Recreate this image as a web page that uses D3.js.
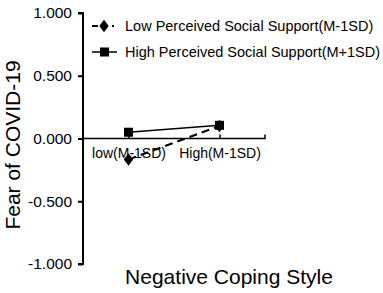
<!DOCTYPE html>
<html>
<head>
<meta charset="utf-8">
<script src="https://cdn.jsdelivr.net/npm/d3@7"></script>
<style>
  body { margin: 0; background: #fff; }
  svg text { font-family: 'Liberation Sans', Arial, sans-serif; fill: #000; }
</style>
</head>
<body>
<div id="chart"></div>
<script>
'use strict'

var categories = ['low(M-1SD)', 'High(M-1SD)']
var lowSupport = [-0.167, 0.10]
var highSupport = [0.05, 0.105]
var yTicks = [1, 0.5, 0, -0.5, -1]
var seriesNames = [
  'Low Perceived Social Support(M-1SD)',
  'High Perceived Social Support(M+1SD)'
]

var width = 383
var height = 293
var margin = { top: 13, left: 83, right: 118, bottom: 29 }

var svg = d3
  .select('#chart')
  .append('svg')
  .attr('width', width)
  .attr('height', height)

var x = d3
  .scalePoint()
  .domain(categories)
  .range([margin.left, width - margin.right])
  .padding(0.5)

var y = d3
  .scaleLinear()
  .domain([-1, 1])
  .range([height - margin.bottom, margin.top])

// y axis
var yAxis = svg
  .append('g')
  .attr('transform', 'translate(' + margin.left + ',0)')
  .call(
    d3
      .axisLeft(y)
      .tickValues(yTicks)
      .tickSize(5)
      .tickPadding(6)
      .tickFormat(d3.format('.3f'))
  )
yAxis.select('.domain').attr('stroke-width', 2).attr('d',
  'M-5,' + y(1) + 'H0V' + y(-1) + 'H-5')
yAxis.selectAll('.tick line').attr('stroke-width', 2)
yAxis.selectAll('.tick text').attr('font-size', '15.5px')
  .text(function(d) { return d3.format('.3f')(d).replace('−', '-') })

// x axis at zero
var xAxis = svg
  .append('g')
  .attr('transform', 'translate(0,' + y(0) + ')')
  .call(d3.axisBottom(x).tickSize(-4).tickPadding(10))
xAxis.select('.domain').attr('stroke-width', 1.5)
  .attr('d', 'M' + margin.left + ',0H' + (width - margin.right) + 'V-4')
xAxis.selectAll('.tick line').attr('stroke-width', 1.5)
xAxis.selectAll('.tick text').attr('font-size', '14px')

// lines
var line = d3
  .line()
  .x(function(d, i) { return x(categories[i]) })
  .y(function(d) { return y(d) })

svg.append('path')
  .datum(lowSupport)
  .attr('d', line)
  .attr('fill', 'none')
  .attr('stroke', '#000')
  .attr('stroke-width', 2)
  .attr('stroke-dasharray', '8,5')

svg.append('path')
  .datum(highSupport)
  .attr('d', line)
  .attr('fill', 'none')
  .attr('stroke', '#000')
  .attr('stroke-width', 1.5)

var diamond = d3.symbol().type(d3.symbolDiamond).size(45)

svg.selectAll('.low-pt')
  .data(lowSupport)
  .enter()
  .append('path')
  .attr('class', 'low-pt')
  .attr('d', diamond)
  .attr('transform', function(d, i) {
    return 'translate(' + x(categories[i]) + ',' + y(d) + ') scale(1.3,1)'
  })

svg.selectAll('.high-pt')
  .data(highSupport)
  .enter()
  .append('rect')
  .attr('class', 'high-pt')
  .attr('x', function(d, i) { return x(categories[i]) - 4.5 })
  .attr('y', function(d) { return y(d) - 4.5 })
  .attr('width', 9)
  .attr('height', 9)

// legend
var legend = svg.append('g').attr('transform', 'translate(92,26)')
legend.append('line')
  .attr('x1', 0).attr('x2', 22).attr('y1', 0).attr('y2', 0)
  .attr('stroke', '#000').attr('stroke-width', 2)
  .attr('stroke-dasharray', '6,4')
legend.append('path').attr('d', diamond).attr('transform', 'translate(12,0) scale(1.3,1)')
legend.append('line')
  .attr('x1', 0).attr('x2', 25).attr('y1', 26).attr('y2', 26)
  .attr('stroke', '#000').attr('stroke-width', 1.5)
legend.append('rect').attr('x', 8).attr('y', 21.5).attr('width', 9).attr('height', 9)
legend.selectAll('text.lg')
  .data(seriesNames)
  .enter()
  .append('text')
  .attr('class', 'lg')
  .attr('x', 33)
  .attr('y', function(d, i) { return i * 26 + 5 })
  .attr('font-size', '14.5px')
  .text(function(d) { return d })

// axis titles
svg.append('text')
  .attr('x', 229)
  .attr('y', 284)
  .attr('text-anchor', 'middle')
  .attr('font-size', '21px')
  .text('Negative Coping Style')

svg.append('text')
  .attr('transform', 'translate(20,145) rotate(-90)')
  .attr('text-anchor', 'middle')
  .attr('font-size', '21px')
  .text('Fear of COVID-19')
</script>
</body>
</html>
